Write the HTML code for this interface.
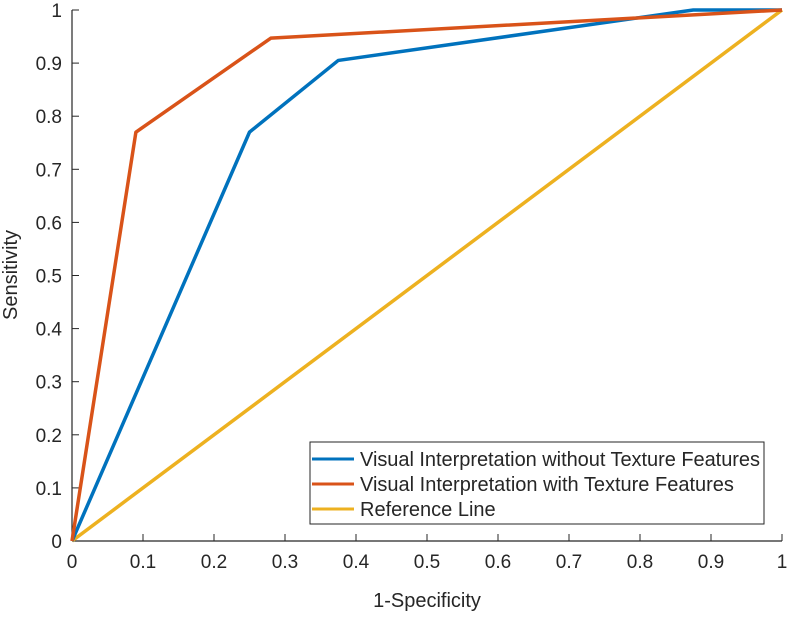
<!DOCTYPE html>
<html><head><meta charset="utf-8"><style>
body{margin:0;background:#fff}
svg text{font-family:"Liberation Sans",Arial,sans-serif;fill:#262626}
</style></head><body>
<svg id="chart" width="787" height="614" xmlns="http://www.w3.org/2000/svg">
<g id="axes"></g>
<g id="series"></g>
<text x="427" y="607" font-size="20" text-anchor="middle">1-Specificity</text>
<text transform="translate(17,275) rotate(-90)" font-size="20" text-anchor="middle">Sensitivity</text>
<g>
<rect x="310" y="442" width="454" height="82" fill="#fff" stroke="#262626" stroke-width="1"/>
<line x1="312" y1="459" x2="354" y2="459" stroke="#0072BD" stroke-width="3"/>
<text x="360" y="466" font-size="20" textLength="400">Visual Interpretation without Texture Features</text>
<line x1="312" y1="484" x2="354" y2="484" stroke="#D95319" stroke-width="3"/>
<text x="360" y="491" font-size="20">Visual Interpretation with Texture Features</text>
<line x1="312" y1="509" x2="354" y2="509" stroke="#EDB120" stroke-width="3"/>
<text x="360" y="516" font-size="20">Reference Line</text>
</g>
</svg>
<script>
const ticks=[0,0.1,0.2,0.3,0.4,0.5,0.6,0.7,0.8,0.9,1];
const tickLabels=["0","0.1","0.2","0.3","0.4","0.5","0.6","0.7","0.8","0.9","1"];
const blueX=[0,0.25,0.375,0.875,1];
const blueY=[0,0.77,0.905,1,1];
const orangeX=[0,0.09,0.28,1];
const orangeY=[0,0.77,0.947,1];
const refX=[0,1];
const refY=[0,1];
const X0=72,X1=782,Y0=541,Y1=10;
const sx=v=>X0+(X1-X0)*v, sy=v=>Y0-(Y0-Y1)*v;
const NS="http://www.w3.org/2000/svg";
const axes=document.getElementById('axes'), ser=document.getElementById('series');
function mk(t,a,p){const e=document.createElementNS(NS,t);for(const k in a)e.setAttribute(k,a[k]);p.appendChild(e);return e;}
let l=mk('line',{x1:X0,y1:Y0,x2:X1,y2:Y0,stroke:'#262626','stroke-width':1.2},axes);


l=mk('line',{x1:X0,y1:Y0,x2:X0,y2:Y1,stroke:'#262626','stroke-width':1.2},axes);


ticks.forEach((t,i)=>{
 let a=mk('line',{x1:sx(t),y1:Y0,x2:sx(t),y2:Y0-7,stroke:'#262626'},axes);
 
 
 let tx=mk('text',{x:sx(t),y:Y0+27,'font-size':19,'text-anchor':'middle'},axes);tx.textContent=tickLabels[i];
 
 
 let b=mk('line',{x1:X0,y1:sy(t),x2:X0+7,y2:sy(t),stroke:'#262626'},axes);
 
 
 let ty=mk('text',{x:X0-10,y:sy(t)+7,'font-size':19,'text-anchor':'end'},axes);ty.textContent=tickLabels[i];
 
 
});
function line(xs,ys,c,n){
 const p=mk('polyline',{points:xs.map((x,i)=>sx(x)+','+sy(ys[i])).join(' '),fill:'none',stroke:c,'stroke-width':3.5,'stroke-linejoin':'round'},ser);
 
 
}
line(refX,refY,'#EDB120','reference-line');
line(blueX,blueY,'#0072BD','roc-without-texture');
line(orangeX,orangeY,'#D95319','roc-with-texture');
</script>
</body></html>
